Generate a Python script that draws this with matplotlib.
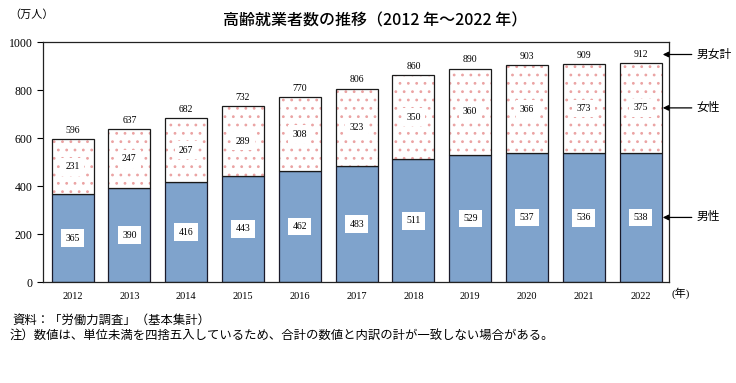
import numpy as np
import matplotlib.pyplot as plt

plt.rcParams['font.family'] = ['Liberation Serif', 'Noto Sans CJK JP']

years = ['2012', '2013', '2014', '2015', '2016', '2017', '2018', '2019', '2020', '2021', '2022']
male = [365, 390, 416, 443, 462, 483, 511, 529, 537, 536, 538]
female = [231, 247, 267, 289, 308, 323, 350, 360, 366, 373, 375]
total = [596, 637, 682, 732, 770, 806, 860, 890, 903, 909, 912]

male_color = '#7fa3cc'
dot_color = '#eba3a3'

fig = plt.figure(figsize=(7.36, 3.83), dpi=100)
ax = fig.add_axes([0.0584, 0.2637, 0.8506, 0.6266])

x = np.arange(len(years))
w = 0.74

ax.bar(x, male, w, color=male_color, edgecolor='#1a1a2a', linewidth=0.9, zorder=2)
# dotted female part: hatch drawn in pink, then black outline on top
plt.rcParams['hatch.linewidth'] = 0.8
ax.bar(x, female, w, bottom=male, color='white', edgecolor=dot_color, hatch='..',
       linewidth=0, zorder=2)
ax.bar(x, female, w, bottom=male, fill=False, edgecolor='#1a1a1a', linewidth=0.9, zorder=3)

box = dict(boxstyle='square,pad=0.45', fc='white', ec='none')
for i in range(len(years)):
    ax.text(x[i], male[i] / 2, str(male[i]), ha='center', va='center', fontsize=7,
            bbox=box, zorder=4)
    ax.text(x[i], male[i] + female[i] / 2, str(female[i]), ha='center', va='center',
            fontsize=7, bbox=box, zorder=4)
    ax.text(x[i], total[i] + 36, str(total[i]), ha='center', va='center', fontsize=7, zorder=4)

ax.set_xlim(-0.52, 10.5)
ax.set_ylim(0, 1000)
ax.set_yticks(range(0, 1001, 200))
ax.set_xticks(x)
ax.set_xticklabels(years)
ax.tick_params(axis='y', direction='out', length=4, labelsize=8.5, width=0.8)
ax.tick_params(axis='x', length=0, labelsize=7.5, pad=7)
for s in ax.spines.values():
    s.set_linewidth(0.9)
    s.set_color('#222222')

fig.text(0.012, 0.963, '（万人）', fontsize=8, ha='left', va='center')
ax.text(10.55, -45, '(年)', fontsize=8, ha='left', va='center', clip_on=False)

fig.text(0.51, 0.945, '高齢就業者数の推移（2012 年～2022 年）', ha='center', va='center',
         fontsize=11.5, fontweight='medium',
         family=['Noto Sans CJK JP'])

# right side callouts
callouts = [('男女計', 10, total[-1] + 36), ('女性', 10, male[-1] + female[-1] / 2),
            ('男性', 10, male[-1] / 2)]
for label, xi, yv in callouts:
    ax.annotate('', xy=(xi + 0.39, yv), xytext=(xi + 0.9, yv),
                arrowprops=dict(arrowstyle='-|>', color='black', lw=0.9,
                                mutation_scale=8, shrinkA=0, shrinkB=0),
                annotation_clip=False, zorder=5)
    ax.text(xi + 0.98, yv, label, ha='left', va='center', fontsize=8.5, clip_on=False)

fig.text(0.017, 0.163, '資料：「労働力調査」（基本集計）', fontsize=8.9, ha='left', va='center')
fig.text(0.013, 0.122, '注）数値は、単位未満を四捨五入しているため、合計の数値と内訳の計が一致しない場合がある。',
         fontsize=8.9, ha='left', va='center')

fig.savefig('out.png', dpi=100)
